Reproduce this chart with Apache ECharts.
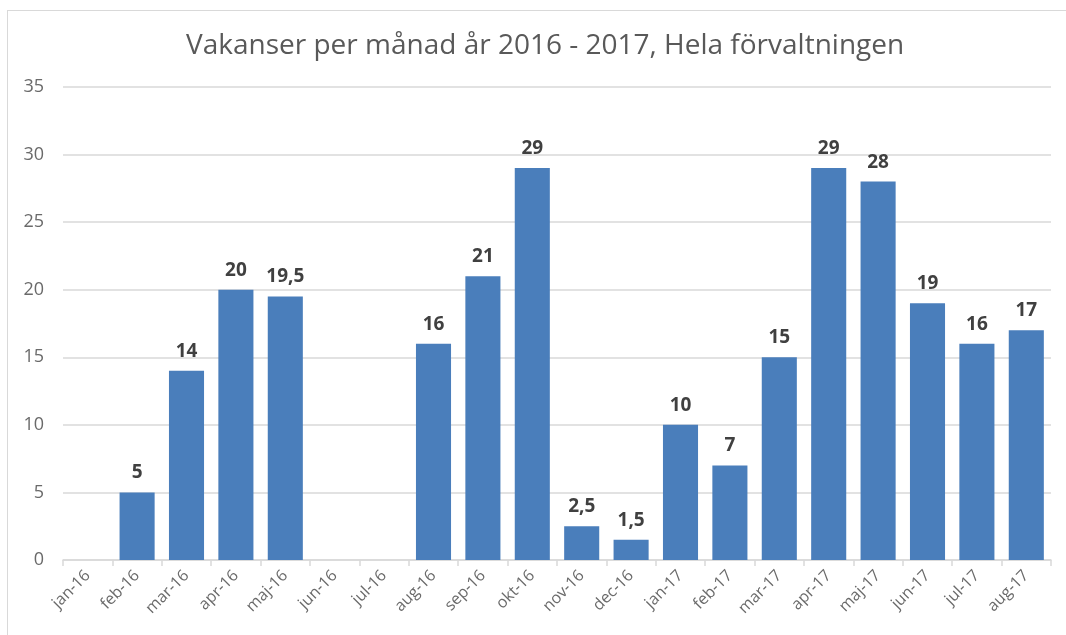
<!DOCTYPE html>
<html>
<head>
<meta charset="utf-8">
<script src="https://cdn.jsdelivr.net/npm/echarts@6/dist/echarts.min.js"></script>
<style>
html,body{margin:0;padding:0;background:#fff;}
#frame{position:absolute;left:7px;top:10px;width:1070px;height:640px;border:1.5px solid #d9d9d9;box-sizing:border-box;}
#chart{position:absolute;left:0;top:0;width:1066px;height:635px;}
</style>
</head>
<body>
<div id="frame"></div>
<div id="chart"></div>
<script>
const titleText = 'Vakanser per månad år 2016 - 2017, Hela förvaltningen';
const categories = ['jan-16','feb-16','mar-16','apr-16','maj-16','jun-16','jul-16','aug-16','sep-16','okt-16','nov-16','dec-16','jan-17','feb-17','mar-17','apr-17','maj-17','jun-17','jul-17','aug-17'];
const vakanser = [null,5,14,20,19.5,null,null,16,21,29,2.5,1.5,10,7,15,29,28,19,16,17];
const yTicks = {min:0, max:35, interval:5};

const chart = echarts.init(document.getElementById('chart'));
chart.setOption({
  animation:false,
  title:{text:titleText,left:181,top:27,textStyle:{fontFamily:'Open Sans',fontWeight:'normal',fontSize:28,color:'#595959'}},
  grid:{left:63,right:15,top:87,bottom:75,containLabel:false},
  xAxis:{type:'category',data:categories,boundaryGap:true,
    axisLine:{lineStyle:{color:'#d9d9d9',width:1.5}},
    axisTick:{show:true,alignWithLabel:false,length:6,lineStyle:{color:'#d9d9d9',width:1.5}},
    axisLabel:{rotate:45,interval:0,fontFamily:'Open Sans',fontSize:16,color:'#6a6a6a',margin:13}},
  yAxis:{type:'value',min:yTicks.min,max:yTicks.max,interval:yTicks.interval,
    axisLine:{show:false},axisTick:{show:false},
    splitLine:{lineStyle:{color:'#d9d9d9',width:1.5}},
    axisLabel:{fontFamily:'Open Sans',fontSize:18,color:'#6a6a6a',margin:19}},
  series:[{type:'bar',data:vakanser,barCategoryGap:'29%',
    itemStyle:{color:'#4a7ebb'},
    label:{show:true,position:'top',distance:10,fontFamily:'Open Sans',fontWeight:'bold',fontSize:19,color:'#404040',
      formatter:p=>String(p.value).replace('.',',')}}]
});
</script>
</body>
</html>
